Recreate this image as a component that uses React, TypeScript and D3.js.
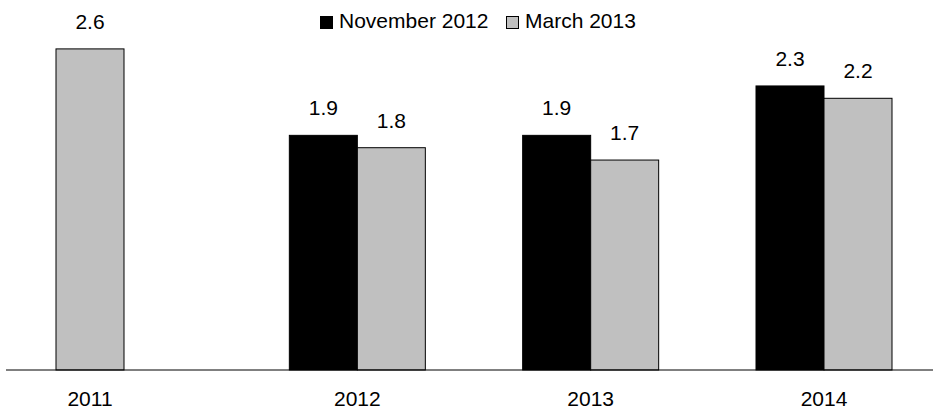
import React from "react";
import * as d3 from "d3";

const years = ["2011", "2012", "2013", "2014"];
const november2012: (number | null)[] = [null, 1.9, 1.9, 2.3];
const march2013: (number | null)[] = [2.6, 1.8, 1.7, 2.2];
const seriesNames = ["November 2012", "March 2013"];
const seriesColors = ["#000000", "#c0c0c0"];

const W = 933;
const H = 411;
const FONT = "'Liberation Sans', Arial, Helvetica, sans-serif";
const FS = 21;

export default function App() {
  const baseline = 370;
  const barW = 68;
  const x = d3.scalePoint<string>().domain(years).range([124, 824]);
  const y = d3.scaleLinear().domain([0, 3]).range([baseline, -0.5]);
  const fmt = d3.format(".1f");

  const series = [november2012, march2013];
  const legendX = [320, 506];

  return (
    <>
      <style>{`body{margin:0}`}</style>
      <svg width={W} height={H} style={{ display: "block", background: "#fff" }} fontFamily={FONT}>
        {years.map((yr, i) => {
          const cx = x(yr)!;
          const present = series
            .map((s, k) => ({ v: s[i], k }))
            .filter((d) => d.v !== null) as { v: number; k: number }[];
          const left = cx - barW;
          const labelX = left + (present.length * barW) / 2;
          return (
            <g key={yr}>
              {present.map((d, slot) => {
                const bx = left + slot * barW;
                const top = y(d.v);
                return (
                  <g key={d.k}>
                    <rect
                      x={bx}
                      y={top}
                      width={barW}
                      height={baseline - top}
                      fill={seriesColors[d.k]}
                      stroke="#000"
                      strokeWidth={1}
                    />
                    <text x={bx + barW / 2} y={top - 20} textAnchor="middle" fontSize={FS} fill="#000">
                      {fmt(d.v)}
                    </text>
                  </g>
                );
              })}
              <text x={labelX} y={406} textAnchor="middle" fontSize={FS} fill="#000">
                {yr}
              </text>
            </g>
          );
        })}
        <line x1={6} x2={W} y1={baseline} y2={baseline} stroke="#000" strokeWidth={1} />
        {seriesNames.map((name, k) => {
          const lx = legendX[k];
          return (
            <g key={name}>
              <rect x={lx + 0.5} y={16.5} width={12} height={12} fill={seriesColors[k]} stroke="#000" strokeWidth={1} />
              <text x={lx + 19} y={28} fontSize={FS} fill="#000">
                {name}
              </text>
            </g>
          );
        })}
      </svg>
    </>
  );
}
